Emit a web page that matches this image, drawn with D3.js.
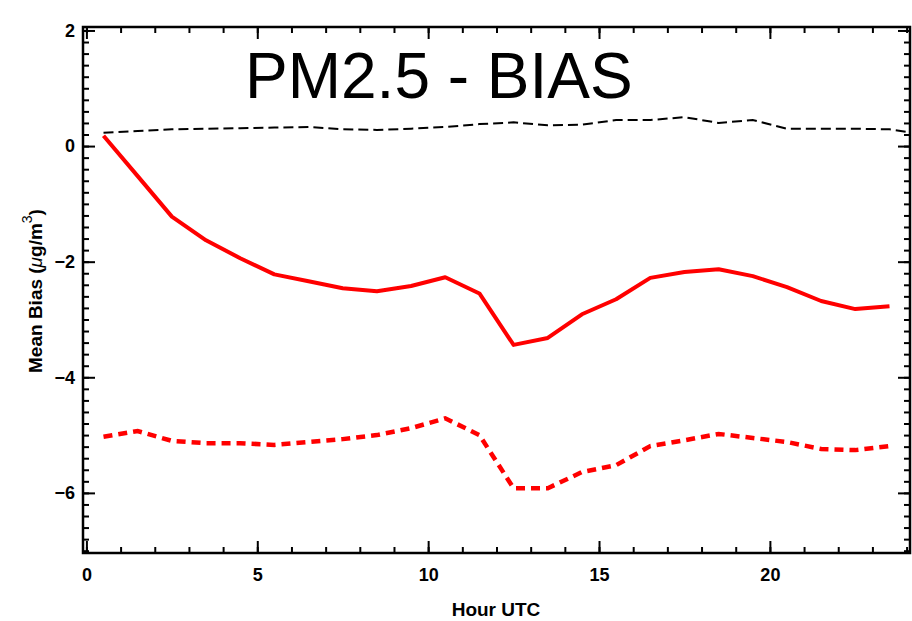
<!DOCTYPE html>
<html>
<head>
<meta charset="utf-8">
<script src="https://cdn.jsdelivr.net/npm/d3@7"></script>
<style>
  body { margin: 0; background: #fff; }
  svg { display: block; font-family: "Liberation Sans", Arial, sans-serif; }
</style>
</head>
<body>
<svg id="chart" width="912" height="621"></svg>
<script>
// hours (UTC, half-hour centres)
var hours = [0.5, 1.5, 2.5, 3.5, 4.5, 5.5, 6.5, 7.5, 8.5, 9.5, 10.5, 11.5,
  12.5, 13.5, 14.5, 15.5, 16.5, 17.5, 18.5, 19.5, 20.5, 21.5, 22.5, 23.5];
var hoursRef = hours.concat([24.5]);

// mean bias, solid red
var biasSolid = [0.18, -0.52, -1.22, -1.63, -1.94, -2.22, -2.34, -2.46, -2.51, -2.42, -2.27, -2.55,
  -3.44, -3.32, -2.91, -2.65, -2.28, -2.18, -2.13, -2.25, -2.44, -2.68, -2.82, -2.77];
// mean bias, dashed red
var biasDashed = [-5.03, -4.93, -5.1, -5.14, -5.14, -5.17, -5.12, -5.07, -5.0, -4.88, -4.71, -5.0,
  -5.92, -5.92, -5.64, -5.52, -5.19, -5.09, -4.98, -5.05, -5.12, -5.24, -5.26, -5.19];
// mean bias, thin black dashed
var biasRef = [0.23, 0.26, 0.29, 0.3, 0.31, 0.32, 0.33, 0.29, 0.28, 0.3, 0.33, 0.38,
  0.41, 0.36, 0.37, 0.45, 0.45, 0.5, 0.4, 0.45, 0.3, 0.3, 0.3, 0.29, 0.2];

var xMajor = [0, 5, 10, 15, 20];
var xMinor = d3.range(0, 25, 1);
var yMajor = [2, 0, -2, -4, -6];
var yMinor = d3.range(-7, 2.01, 0.2).map(function(v) { return Math.round(v * 10) / 10; });

var frame = { left: 83, right: 910, top: 27, bottom: 553 };

var svg = d3.select('#chart');

var x = d3.scaleLinear().domain([-0.1, 24.1]).range([frame.left, frame.right]);
var y = d3.scaleLinear().domain([-7.04, 2.06]).range([frame.bottom, frame.top]);

svg.append('defs').append('clipPath').attr('id', 'plotclip')
  .append('rect')
  .attr('x', frame.left).attr('y', frame.top)
  .attr('width', frame.right - frame.left).attr('height', frame.bottom - frame.top);

function styleAxis(g) {
  g.select('.domain').remove();
  g.selectAll('line').attr('stroke', '#000').attr('stroke-width', 2);
  g.selectAll('text').attr('fill', '#000')
    .style('font-size', '18px').style('font-weight', 'bold');
}

// bottom axis
svg.append('g').attr('transform', 'translate(0,' + frame.bottom + ')')
  .call(d3.axisBottom(x).tickValues(xMinor).tickSize(-6).tickFormat(''))
  .call(styleAxis);
svg.append('g').attr('transform', 'translate(0,' + frame.bottom + ')')
  .call(d3.axisBottom(x).tickValues(xMajor).tickSize(-12).tickPadding(15).tickFormat(d3.format('d')))
  .call(styleAxis);
// top axis
svg.append('g').attr('transform', 'translate(0,' + frame.top + ')')
  .call(d3.axisTop(x).tickValues(xMinor).tickSize(-6).tickFormat(''))
  .call(styleAxis);
svg.append('g').attr('transform', 'translate(0,' + frame.top + ')')
  .call(d3.axisTop(x).tickValues(xMajor).tickSize(-12).tickFormat(''))
  .call(styleAxis);
// left axis
svg.append('g').attr('transform', 'translate(' + frame.left + ',0)')
  .call(d3.axisLeft(y).tickValues(yMinor).tickSize(-6).tickFormat(''))
  .call(styleAxis);
svg.append('g').attr('transform', 'translate(' + frame.left + ',0)')
  .call(d3.axisLeft(y).tickValues(yMajor).tickSize(-12).tickPadding(8).tickFormat(d3.format('d')))
  .call(styleAxis);
// right axis
svg.append('g').attr('transform', 'translate(' + frame.right + ',0)')
  .call(d3.axisRight(y).tickValues(yMinor).tickSize(-6).tickFormat(''))
  .call(styleAxis);
svg.append('g').attr('transform', 'translate(' + frame.right + ',0)')
  .call(d3.axisRight(y).tickValues(yMajor).tickSize(-12).tickFormat(''))
  .call(styleAxis);

// frame
svg.append('rect')
  .attr('x', frame.left).attr('y', frame.top)
  .attr('width', frame.right - frame.left).attr('height', frame.bottom - frame.top)
  .attr('fill', 'none').attr('stroke', '#000').attr('stroke-width', 2.5);

var plot = svg.append('g').attr('clip-path', 'url(#plotclip)');

function lineOf(xs) {
  return d3.line()
    .x(function(d, i) { return x(xs[i]); })
    .y(function(d) { return y(d); });
}

plot.append('path').datum(biasRef)
  .attr('d', lineOf(hoursRef))
  .attr('fill', 'none').attr('stroke', '#000')
  .attr('stroke-width', 2).attr('stroke-dasharray', '10,5');

plot.append('path').datum(biasSolid)
  .attr('d', lineOf(hours))
  .attr('fill', 'none').attr('stroke', '#ff0000')
  .attr('stroke-width', 4).attr('stroke-linejoin', 'round');

plot.append('path').datum(biasDashed)
  .attr('d', lineOf(hours))
  .attr('fill', 'none').attr('stroke', '#ff0000')
  .attr('stroke-width', 4.5).attr('stroke-dasharray', '9,6');

// title
svg.append('text')
  .attr('x', 245).attr('y', 98)
  .style('font-size', '64px')
  .text('PM2.5 - BIAS');

// axis titles
svg.append('text')
  .attr('x', 496).attr('y', 616)
  .attr('text-anchor', 'middle')
  .style('font-size', '19px').style('font-weight', 'bold')
  .text('Hour UTC');

var yl = svg.append('text')
  .attr('transform', 'translate(42,291) rotate(-90)')
  .attr('text-anchor', 'middle')
  .style('font-size', '19px').style('font-weight', 'bold');
yl.append('tspan').text('Mean Bias (');
yl.append('tspan').style('font-style', 'italic').style('font-weight', 'normal').text('μ');
yl.append('tspan').text('g/m');
yl.append('tspan').attr('dy', -10).style('font-size', '14px').style('font-weight', 'normal').text('3');
yl.append('tspan').attr('dy', 10).text(')');
</script>
</body>
</html>
